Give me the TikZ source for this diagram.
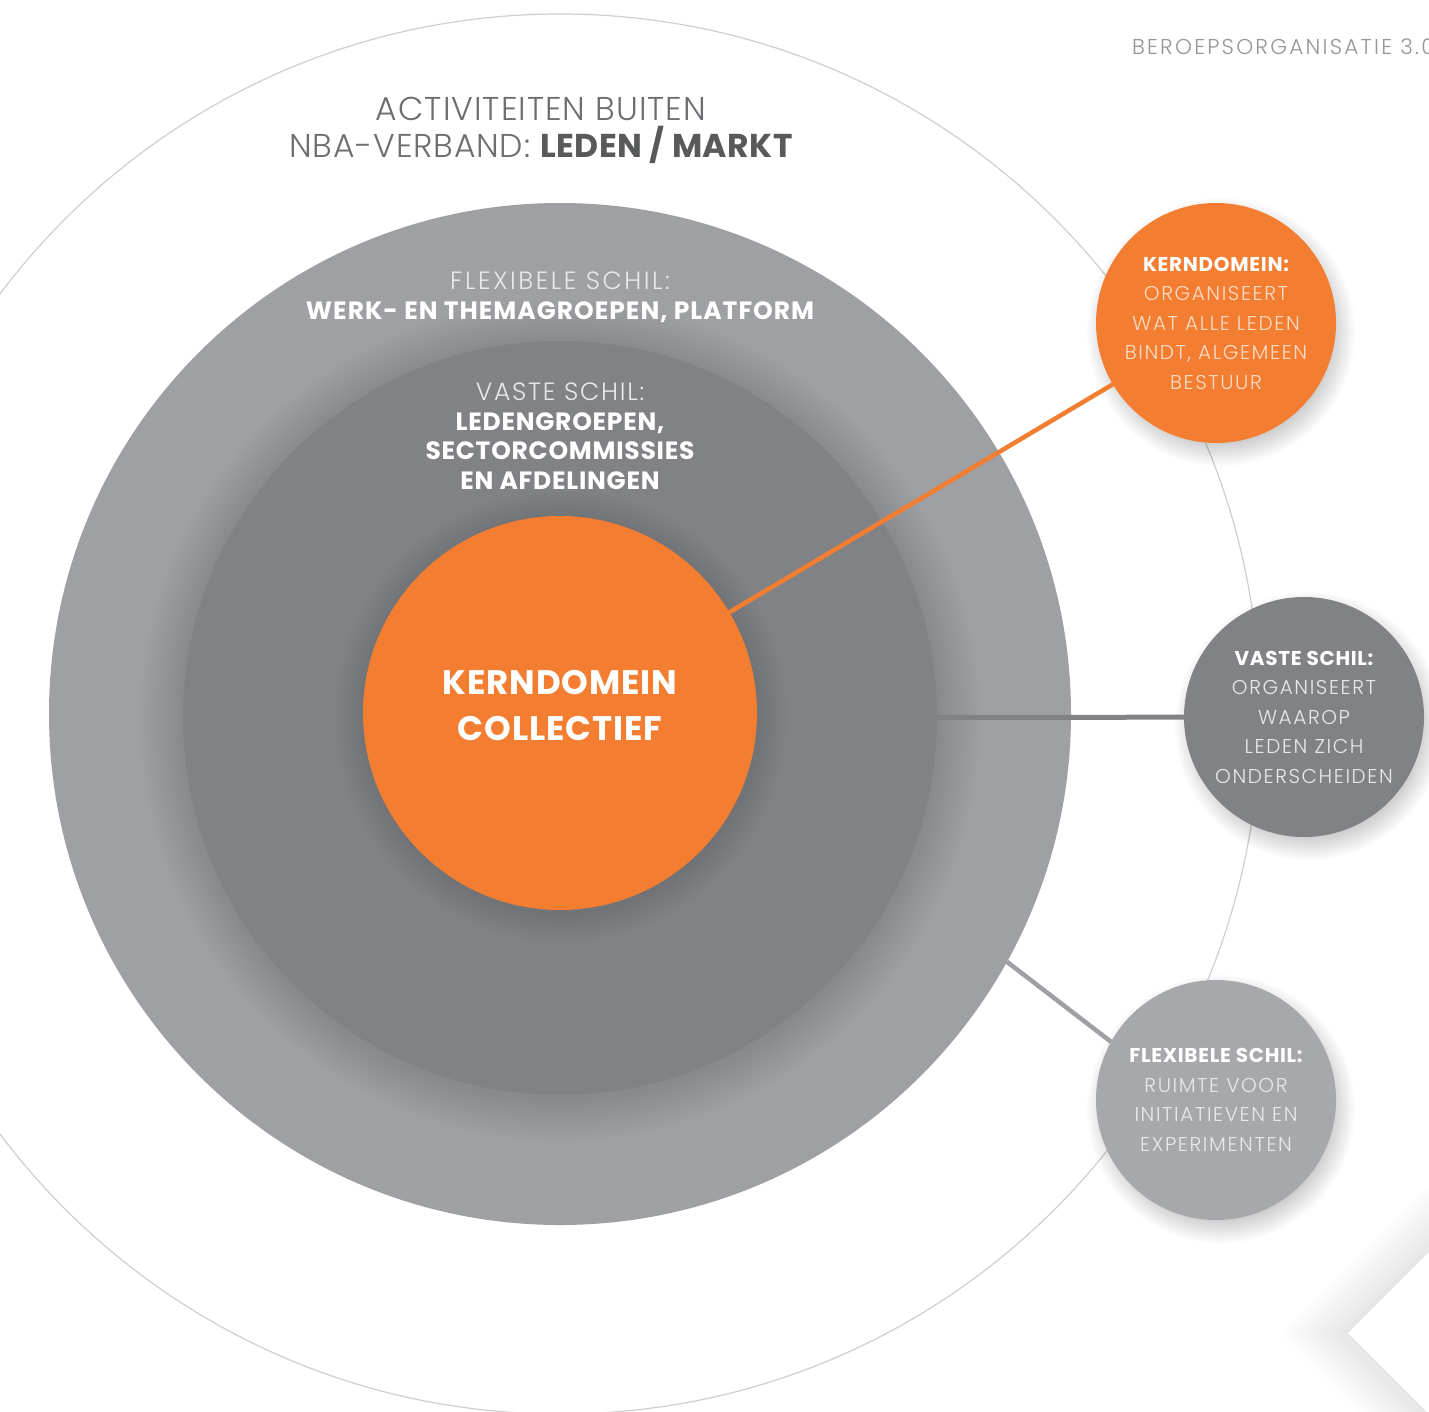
\documentclass[tikz,border=0pt]{standalone}
\usepackage{fontspec}
\setmainfont{Poppins}
\newfontfamily\lt{Poppins Light}
\definecolor{orng}{HTML}{F37E32}
\definecolor{flexg}{HTML}{9EA0A3}
\definecolor{vastg}{HTML}{808286}
\definecolor{sflex}{HTML}{A7A8AB}
\definecolor{ttl}{HTML}{6D6E71}
\definecolor{ttlb}{HTML}{58595B}
\definecolor{hdr}{HTML}{939598}
\definecolor{thinc}{HTML}{CFCFCF}
\definecolor{ltw}{HTML}{E8E9EA}
\definecolor{lto}{HTML}{FCDCC6}
\newcommand\ltsp[1]{\lt\addfontfeatures{LetterSpace=#1}}
\newcommand\bfsp[1]{\bfseries\addfontfeatures{LetterSpace=#1}}
\begin{document}
\begin{tikzpicture}[x=1pt,y=-1pt,
  disc/.style={circle,inner sep=0pt,outer sep=0pt},
  small/.style={disc,minimum size=240pt,align=center,text=white,font=\fontsize{20}{29.5}\selectfont},
  lbl/.style={inner sep=0pt,outer sep=0pt,align=center},
  conn/.style={line width=4.5pt}
]
\useasboundingbox (0,0) rectangle (1429,1411);
\fill[white] (0,0) rectangle (1429,1411);

% centres
\coordinate (kc) at (1216,323);
\coordinate (vc) at (1304,717);
\coordinate (fc) at (1216,1100);

% outer thin circle
\node[disc,draw=thinc,line width=1.2pt,minimum size=1400pt] (outer) at (560,714) {};

% flexible shell
\node[disc,fill=flexg,minimum size=1022pt] (flex) at (560,714) {};
% shadow of vaste shell
\foreach \i in {1,...,22}
  \fill[black,opacity=0.0035] (560,721) circle[radius={(377+2*\i)*1pt}];
\node[disc,fill=vastg,minimum size=754pt] (vaste) at (560,718) {};
% shadow of core
\foreach \i in {1,...,15}
  \fill[black,opacity=0.003] (561,716) circle[radius={(197+2*\i)*1pt}];
\node[disc,fill=orng,minimum size=394pt] (core) at (560,713) {};

% chevron at the bottom right
\foreach \i in {1,...,25}
  \fill[black,opacity=0.004,xshift=-\i*2.8pt] (1348,1333) -- (1548,1133) -- (1700,1333) -- (1548,1533) -- cycle;
\fill[white] (1348,1333) -- (1548,1133) -- (1700,1333) -- (1548,1533) -- cycle;

% small circle shadows
\foreach \c in {kc,vc,fc}
  \foreach \i in {1,...,14}
    \fill[black,opacity=0.014] ([shift={(5,9)}]\c) circle[radius={(106+2*\i)*1pt}];

% small circles
\node[small,fill=orng] (ksmall) at (kc) {\bfsp{3.5}KERNDOMEIN:\\{\ltsp{8}\color{lto}ORGANISEERT}\\{\ltsp{8}\color{lto}WAT ALLE LEDEN}\\{\ltsp{8}\color{lto}BINDT, ALGEMEEN}\\{\ltsp{8}\color{lto}BESTUUR}};
\node[small,fill=vastg] (vsmall) at (vc) {\bfsp{3.5}VASTE SCHIL:\\{\ltsp{8}\color{ltw}ORGANISEERT}\\{\ltsp{8}\color{ltw}WAAROP}\\{\ltsp{8}\color{ltw}LEDEN ZICH}\\{\ltsp{8}\color{ltw}ONDERSCHEIDEN}};
\node[small,fill=sflex] (fsmall) at (fc) {\bfsp{3.5}FLEXIBELE SCHIL:\\{\ltsp{8}\color{ltw}RUIMTE VOOR}\\{\ltsp{8}\color{ltw}INITIATIEVEN EN}\\{\ltsp{8}\color{ltw}EXPERIMENTEN}};

% connectors
\draw[conn,orng] (core) -- (ksmall);
\draw[conn,vastg,line width=5pt] (vaste) -- (vsmall);
\draw[conn,flexg] (flex.-29.2) -- (fsmall.151.3);

% texts
\node[lbl,anchor=base west,text=hdr,font=\fontsize{21.5}{25}\selectfont\ltsp{10.5}] (hdr) at (1132,54) {BEROEPSORGANISATIE 3.0};
\node[lbl,anchor=north,text=ttl,font=\fontsize{33}{37}\selectfont] (title) at (541,97) {{\ltsp{3}ACTIVITEITEN BUITEN}\\{\ltsp{2.5}NBA-VERBAND: }{\bfsp{1.5}\color{ttlb}LEDEN / MARKT}};
\node[lbl,anchor=north,text=white,font=\fontsize{25}{30}\selectfont] (flexlbl) at (560,272) {{\ltsp{10}\color{ltw}FLEXIBELE SCHIL:}\\{\bfsp{4}WERK- EN THEMAGROEPEN, PLATFORM}};
\node[lbl,anchor=north,text=white,font=\fontsize{25}{29.5}\selectfont] (vastelbl) at (560,383) {{\ltsp{7}\color{ltw}VASTE SCHIL:}\\{\bfsp{3}LEDENGROEPEN,}\\{\bfsp{3}SECTORCOMMISSIES}\\{\bfsp{3}EN AFDELINGEN}};
\node[lbl,anchor=north,text=white,font=\fontsize{34}{46}\selectfont] (corelbl) at (560,670) {{\bfsp{2.5}KERNDOMEIN}\\{\bfsp{2.5}COLLECTIEF}};
\end{tikzpicture}
\end{document}
